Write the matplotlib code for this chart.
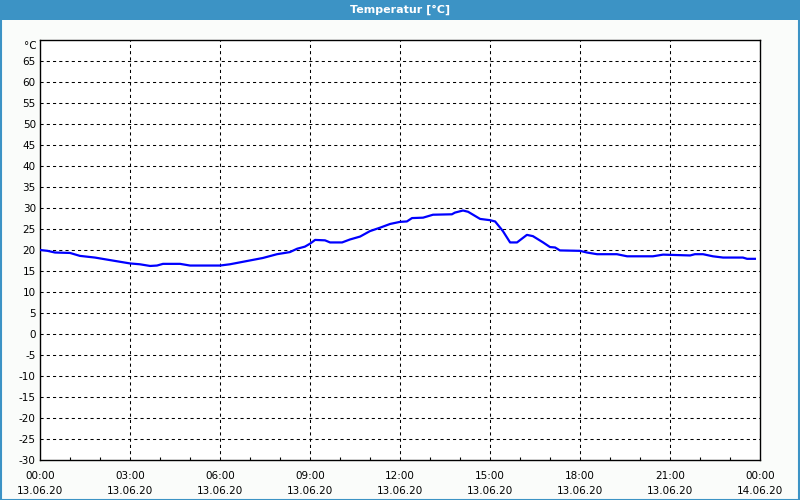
import matplotlib
matplotlib.use("Agg")
import matplotlib.pyplot as plt
from matplotlib.patches import Rectangle
from matplotlib.ticker import MultipleLocator

title = "Temperatur [°C]"
unit = "°C"
hours = [0.0, 0.25, 0.5, 1.0, 1.33, 1.83, 2.33, 3.0, 3.33, 3.67, 3.9, 4.1, 4.67, 5.0, 6.0,
         6.33, 6.77, 7.43, 7.9, 8.33, 8.57, 8.83, 9.0, 9.17, 9.5, 9.67, 10.07, 10.33, 10.67,
         11.0, 11.33, 11.67, 12.0, 12.23, 12.4, 12.77, 13.1, 13.73, 13.83, 14.1, 14.27, 14.67,
         15.0, 15.17, 15.43, 15.67, 15.9, 16.23, 16.43, 16.77, 17.0, 17.17, 17.33, 18.0, 18.23,
         18.57, 19.23, 19.57, 20.43, 20.77, 21.67, 21.83, 22.1, 22.43, 22.77, 23.43, 23.57, 23.83]
temps = [20.0, 19.8, 19.4, 19.3, 18.6, 18.2, 17.6, 16.8, 16.6, 16.2, 16.3, 16.7, 16.7, 16.3, 16.3,
         16.6, 17.2, 18.1, 19.0, 19.5, 20.3, 20.8, 21.5, 22.4, 22.3, 21.8, 21.8, 22.5, 23.2,
         24.5, 25.3, 26.2, 26.7, 26.8, 27.6, 27.7, 28.4, 28.5, 28.9, 29.4, 29.1, 27.4,
         27.1, 26.8, 24.5, 21.8, 21.8, 23.6, 23.3, 21.8, 20.7, 20.6, 19.9, 19.8, 19.4,
         19.0, 19.0, 18.5, 18.5, 18.9, 18.7, 19.0, 19.0, 18.5, 18.2, 18.2, 17.9, 17.9]
xtick_hours = [0, 3, 6, 9, 12, 15, 18, 21, 24]
xtick_labels = ["00:00\n13.06.20", "03:00\n13.06.20", "06:00\n13.06.20", "09:00\n13.06.20",
                "12:00\n13.06.20", "15:00\n13.06.20", "18:00\n13.06.20", "21:00\n13.06.20",
                "00:00\n14.06.20"]
ytick_values = list(range(-30, 70, 5))
ymin, ymax = -30, 70

bg = "#fafcfa"
bar_col = "#3c93c5"

fig = plt.figure(figsize=(8, 5), dpi=100, facecolor=bg)
# title bar
fig.patches.append(Rectangle((0, 1 - 20 / 500), 1, 20 / 500, transform=fig.transFigure,
                             facecolor=bar_col, edgecolor="none", zorder=0))
fig.patches.append(Rectangle((0.0008, 0.001), 0.9984, 0.998, transform=fig.transFigure,
                             facecolor="none", edgecolor=bar_col, linewidth=1.5, zorder=1))
fig.text(0.5, 1 - 10 / 500, title, color="white", fontsize=8, fontweight="bold",
         ha="center", va="center")

ax = fig.add_axes([40 / 800, 40 / 500, 720 / 800, 420 / 500])
ax.set_facecolor("white")
ax.plot(hours, temps, color="#0000ff", linewidth=1.6, zorder=3)
ax.set_xlim(0, 24)
ax.set_ylim(ymin, ymax)

ax.set_xticks(xtick_hours)
ax.set_xticklabels(xtick_labels, fontsize=7.5, linespacing=1.65)
ax.xaxis.set_minor_locator(MultipleLocator(1))
ax.set_yticks(ytick_values)
ax.set_yticklabels([str(v) for v in ytick_values], fontsize=7.5)
ax.tick_params(axis="y", length=0, pad=3)
ax.tick_params(axis="x", which="major", length=0, pad=8)
ax.tick_params(axis="x", which="minor", direction="in", length=2, width=0.8)

for v in ytick_values[1:]:
    ax.axhline(v, color="black", linewidth=0.75, linestyle=(0, (3, 3)), zorder=1)
for h in xtick_hours[1:-1]:
    ax.axvline(h, color="black", linewidth=0.75, linestyle=(0, (3, 3)), zorder=1)

for s in ax.spines.values():
    s.set_linewidth(1.0)
    s.set_color("black")

ax.text(-0.004, 68.6, unit, transform=ax.get_yaxis_transform(), fontsize=7.5,
        ha="right", va="center")

fig.savefig("out.png", dpi=100, facecolor=bg)
